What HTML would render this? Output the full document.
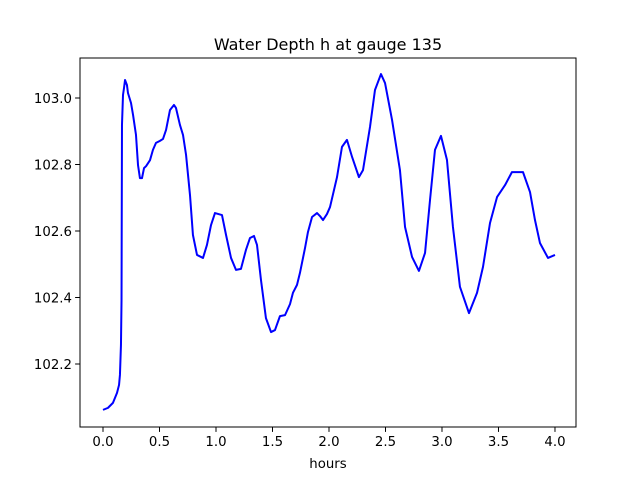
<!DOCTYPE html>
<html><head><meta charset="utf-8"><style>
html,body{margin:0;padding:0;background:#fff;}
svg text{font-family:"DejaVu Sans","Liberation Sans",sans-serif;fill:#000;}
</style></head><body>
<svg id="chart" width="640" height="480" viewBox="0 0 640 480" xmlns="http://www.w3.org/2000/svg">
<rect width="640" height="480" fill="#fff"/>
<text x="328" y="50" font-size="16" text-anchor="middle">Water Depth h at gauge 135</text>
<g id="xticks"></g>
<g id="yticks"></g>
<path id="series" fill="none" stroke="#0000ff" stroke-width="2" stroke-linejoin="round"/>
<rect x="80" y="58" width="496" height="369" fill="none" stroke="#000" stroke-width="1"/>
<text x="328" y="468" font-size="13.3" text-anchor="middle">hours</text>
</svg>
<script>
const hours = [0.0,0.044,0.088,0.124,0.142,0.150,0.159,0.164,0.168,0.177,0.186,0.195,0.212,0.221,0.248,0.266,0.292,0.310,0.327,0.345,0.363,0.381,0.416,0.442,0.469,0.504,0.531,0.558,0.593,0.628,0.646,0.681,0.708,0.735,0.770,0.796,0.832,0.885,0.920,0.956,0.991,1.053,1.089,1.133,1.177,1.221,1.265,1.301,1.336,1.363,1.398,1.442,1.487,1.522,1.566,1.611,1.655,1.681,1.717,1.743,1.788,1.814,1.850,1.894,1.920,1.947,1.982,2.009,2.071,2.115,2.159,2.204,2.265,2.301,2.363,2.407,2.460,2.496,2.558,2.628,2.673,2.735,2.796,2.850,2.894,2.938,2.991,3.044,3.097,3.159,3.239,3.310,3.363,3.425,3.487,3.558,3.619,3.717,3.779,3.823,3.867,3.938,4.0];
const depth = [102.062,102.068,102.083,102.113,102.137,102.167,102.257,102.392,102.919,103.009,103.030,103.054,103.039,103.015,102.985,102.949,102.889,102.798,102.759,102.759,102.789,102.795,102.813,102.844,102.865,102.871,102.877,102.904,102.964,102.979,102.970,102.919,102.889,102.829,102.708,102.588,102.528,102.519,102.558,102.618,102.654,102.648,102.588,102.519,102.483,102.486,102.543,102.579,102.585,102.558,102.453,102.338,102.296,102.302,102.344,102.347,102.380,102.414,102.438,102.474,102.549,102.597,102.642,102.654,102.645,102.633,102.651,102.672,102.762,102.853,102.874,102.823,102.762,102.783,102.913,103.024,103.072,103.045,102.934,102.783,102.612,102.522,102.480,102.534,102.693,102.844,102.886,102.814,102.612,102.432,102.353,102.414,102.492,102.624,102.702,102.738,102.777,102.777,102.717,102.633,102.564,102.519,102.528];
const xTicks = [0.0,0.5,1.0,1.5,2.0,2.5,3.0,3.5,4.0];
const xTickLabels = ["0.0","0.5","1.0","1.5","2.0","2.5","3.0","3.5","4.0"];
const yTicks = [102.2,102.4,102.6,102.8,103.0];
const yTickLabels = ["102.2","102.4","102.6","102.8","103.0"];

const X0=80,X1=576,Y0=427,Y1=58;
const xMin=-0.2035,xMax=4.186,yMin=102.0105,yMax=103.1203;
function sx(v){return X0+(v-xMin)/(xMax-xMin)*(X1-X0);}
function sy(v){return Y0-(v-yMin)/(yMax-yMin)*(Y0-Y1);}
const NS="http://www.w3.org/2000/svg";
const xg=document.getElementById('xticks'), yg=document.getElementById('yticks');
xTicks.forEach((t,i)=>{
  const x=sx(t);
  const l=document.createElementNS(NS,'line');
  
  
  l.setAttribute('x1',x);l.setAttribute('x2',x);l.setAttribute('y1',Y0);l.setAttribute('y2',Y0+4.9);
  l.setAttribute('stroke','#000');l.setAttribute('stroke-width','1');
  xg.appendChild(l);
  const tx=document.createElementNS(NS,'text');
  
  
  tx.setAttribute('x',x);tx.setAttribute('y',Y0+19);
  tx.setAttribute('font-size','13.3');tx.setAttribute('text-anchor','middle');
  tx.textContent=xTickLabels[i];
  xg.appendChild(tx);
});
yTicks.forEach((t,i)=>{
  const y=sy(t);
  const l=document.createElementNS(NS,'line');
  
  
  l.setAttribute('x1',X0-4.9);l.setAttribute('x2',X0);l.setAttribute('y1',y);l.setAttribute('y2',y);
  l.setAttribute('stroke','#000');l.setAttribute('stroke-width','1');
  yg.appendChild(l);
  const tx=document.createElementNS(NS,'text');
  
  
  tx.setAttribute('x',X0-8);tx.setAttribute('y',y+5);
  tx.setAttribute('font-size','13.3');tx.setAttribute('text-anchor','end');
  tx.textContent=yTickLabels[i];
  yg.appendChild(tx);
});
let d='';
hours.forEach((h,i)=>{d+=(i?'L':'M')+sx(h).toFixed(2)+','+sy(depth[i]).toFixed(2);});
document.getElementById('series').setAttribute('d',d);
</script>
</body></html>
